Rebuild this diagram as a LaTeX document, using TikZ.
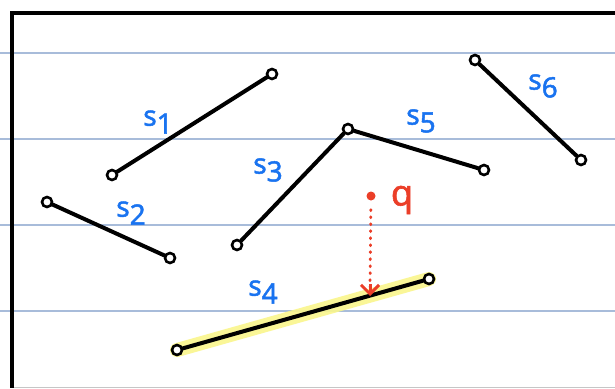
\documentclass[tikz,border=0pt]{standalone}
\usepackage{fontspec}
\setmainfont{Noto Sans}
\newfontfamily\lblfont{Noto Sans}[FakeBold=1.6]
\usetikzlibrary{arrows.meta}
\definecolor{rule}{RGB}{168,188,218}
\definecolor{lblblue}{RGB}{25,115,240}
\definecolor{qred}{RGB}{235,62,40}
\definecolor{hl}{RGB}{250,246,140}
\tikzset{
  endpt/.style={circle, draw=black, line width=2.6pt, fill=white, minimum size=10pt, inner sep=0pt},
  seg/.style={line width=4pt, black, line cap=round},
  lbl/.style={text=lblblue, font=\lblfont\fontsize{28}{28}\selectfont, inner sep=0pt},
  ruleline/.style={rule, line width=1.1pt},
}
\newcommand{\segl}[1]{s\raisebox{-0.28em}{#1}}
\begin{document}
\begin{tikzpicture}[x=1pt,y=-1pt]
\useasboundingbox (0,0) rectangle (615,388);
\fill[white] (0,0) rectangle (615,388);
% ruled lines
\foreach \yy in {53,139,225,311} \draw[ruleline] (0,\yy) -- (615,\yy);
\draw[gray!45, line width=1pt] (12,387) -- (615,387);
% frame
\draw[line width=3.6pt, black] (615,13) -- (12,13) -- (12,388);
% highlight of s4
\draw[hl, line width=14pt, line cap=round, opacity=0.9] (177,350) -- (429,279);
% endpoints
\node[endpt] (a1) at (112,175) {};
\node[endpt] (b1) at (272,74) {};
\node[endpt] (a2) at (47,202) {};
\node[endpt] (b2) at (170,258) {};
\node[endpt] (a3) at (237,245) {};
\node[endpt] (b3) at (348,129) {};
\node[endpt] (b5) at (484,170) {};
\node[endpt] (a6) at (475,60) {};
\node[endpt] (b6) at (581,160) {};
\node[endpt] (a4) at (177,350) {};
\node[endpt] (b4) at (429,279) {};
% segments
\draw[seg] (a1) -- (b1);
\draw[seg] (a2) -- (b2);
\draw[seg] (a3) -- (b3);
\draw[seg] (b3) -- (b5);
\draw[seg] (a6) -- (b6);
\draw[seg] (a4) -- (b4);
% labels
\node[lbl] (l1) at (158,122) {\segl{1}};
\node[lbl] (l2) at (131,213) {\segl{2}};
\node[lbl] (l3) at (268,170) {\segl{3}};
\node[lbl] (l4) at (263,292) {\segl{4}};
\node[lbl] (l5) at (421,121) {\segl{5}};
\node[lbl] (l6) at (543,86) {\segl{6}};
% query point
\node[circle, fill=qred, minimum size=9pt, inner sep=0pt] (q) at (371,196) {};
\node[text=qred, font=\lblfont\fontsize{36}{36}\selectfont, inner sep=0pt] (ql) at (402,200) {q};
\coordinate (qp) at (370,296);
\draw[qred, line width=2.8pt, line cap=round, dash pattern=on 1pt off 6pt, shorten <=9pt] (q) -- ([yshift=9pt]qp);
\draw[qred, line width=3pt, -{Straight Barb[length=9pt,width=18pt,line width=3pt]}] ([yshift=12pt]qp) -- (qp);
\end{tikzpicture}
\end{document}
